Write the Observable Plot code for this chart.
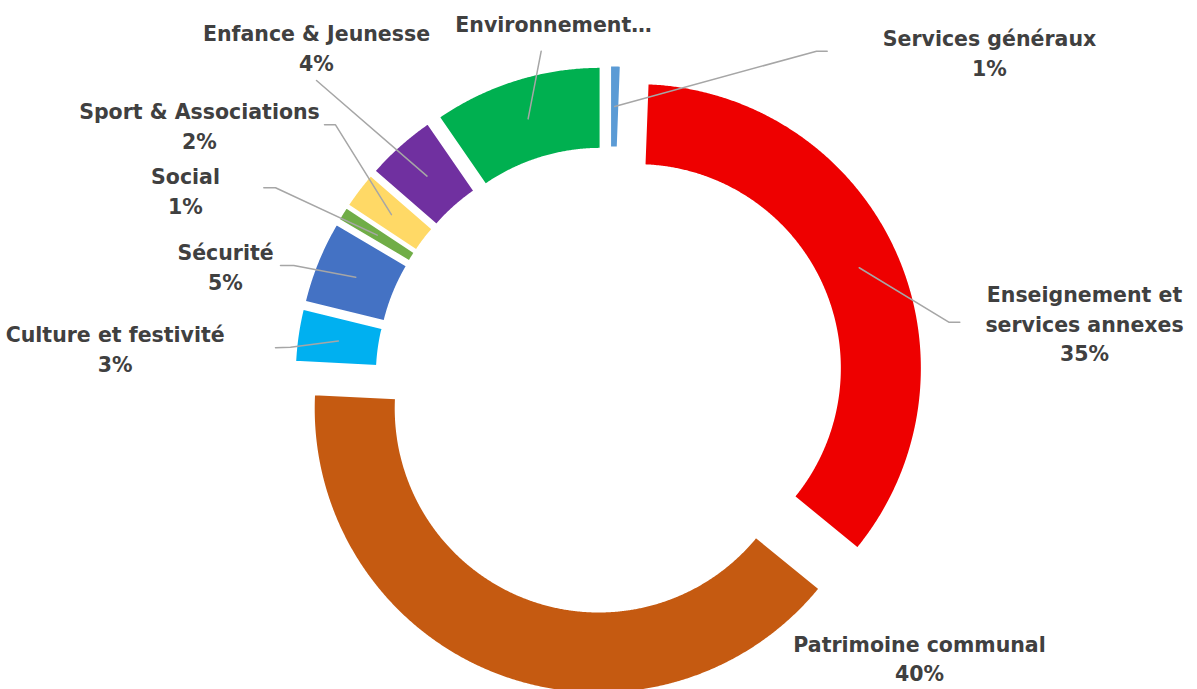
<!DOCTYPE html>
<html><head><meta charset="utf-8">
<script src="https://cdn.jsdelivr.net/npm/d3@7"></script>
<script src="https://cdn.jsdelivr.net/npm/@observablehq/plot@0.6"></script>
<style>body{margin:0;background:#fff}</style>
</head><body><div id="chart"></div>
<script>
// ---- data ----
const categories = ["Services généraux", "Enseignement et services annexes", "Patrimoine communal", "Culture et festivité", "Sécurité", "Social", "Sport & Associations", "Enfance & Jeunesse", "Environnement"];
const values = [0.6, 35.3, 39.9, 3.0, 4.7, 0.8, 2.1, 4.0, 9.6];
const colors = ["#5B9BD5", "#EE0000", "#C55A11", "#00B0F0", "#4472C4", "#70AD47", "#FFD966", "#7030A0", "#00B050"];
const labelTexts = ["Services généraux", "Enseignement et\nservices annexes", "Patrimoine communal", "Culture et festivité", "Sécurité", "Social", "Sport & Associations", "Enfance & Jeunesse", "Environnement…"];
const showPercent = [true, true, true, true, true, true, true, true, false];

// ---- layout (chart units, centre of the ring at 0,0, y up) ----
const W = 1197, H = 689, CX = 609, CY = 380;
const R_OUT = 285, R_IN = 203, EXPLODE = 30;
const labelAnchor = [[380, 305], [475, 19.3], [310, -300.7], [-494.3, 9], [-384, 90.7], [-424, 166.7], [-410, 231.7], [-293, 310], [-56, 349]];
const leaderPath = [
  [[207, 329.3], [217.7, 329.3]],
  [[339.3, 58.3], [350.3, 58.3]],
  null,
  [[-319, 33.3], [-334, 32.7]],
  [[-315.7, 115], [-329, 115]],
  [[-334, 192.7], [-345.7, 192.7]],
  [[-274, 255.7], [-285, 255.7]],
  [[-293, 300]],
  [[-68.3, 329.3]]
];

const total = d3.sum(values);
let acc = 0;
const slices = categories.map((c, i) => {
  const a0 = acc / total * 2 * Math.PI;
  acc += values[i];
  const a1 = acc / total * 2 * Math.PI;
  return {c, i, a0, a1, mid: (a0 + a1) / 2};
});

const ring = [];
for (const s of slices) {
  const ox = EXPLODE * Math.sin(s.mid), oy = EXPLODE * Math.cos(s.mid);
  const n = Math.max(2, Math.ceil((s.a1 - s.a0) / 0.005));
  const pts = [];
  for (let k = 0; k <= n; k++) { const a = s.a0 + (s.a1 - s.a0) * k / n; pts.push([ox + R_OUT * Math.sin(a), oy + R_OUT * Math.cos(a)]); }
  for (let k = n; k >= 0; k--) { const a = s.a0 + (s.a1 - s.a0) * k / n; pts.push([ox + R_IN * Math.sin(a), oy + R_IN * Math.cos(a)]); }
  pts.push(pts[0]);
  for (const [x, y] of pts) ring.push({c: s.c, x, y});
}

const leaders = [];
slices.forEach((s, i) => {
  if (!leaderPath[i]) return;
  const rm = EXPLODE + (R_OUT + R_IN) / 2;
  leaders.push({c: s.c, x: rm * Math.sin(s.mid), y: rm * Math.cos(s.mid)});
  for (const [x, y] of leaderPath[i]) leaders.push({c: s.c, x, y});
});

const labels = slices.map((s, i) => ({
  x: labelAnchor[i][0], y: labelAnchor[i][1],
  text: labelTexts[i] + (showPercent[i] ? "\n" + Math.round(values[i] / total * 100) + "%" : "")
}));

const FS = 20.5;
const chart = Plot.plot({
  width: W, height: H, margin: 0,
  x: {domain: [-CX, W - CX], axis: null},
  y: {domain: [CY - H, CY], axis: null},
  color: {domain: categories, range: colors},
  style: {fontFamily: "'DejaVu Sans', sans-serif", background: "#fff"},
  marks: [
    Plot.line(ring, {x: "x", y: "y", z: "c", fill: "c", stroke: "white", strokeWidth: 2, curve: "linear"}),
    Plot.line(leaders, {x: "x", y: "y", z: "c", stroke: "#A6A6A6", strokeWidth: 1.5}),
    Plot.text(labels, {x: "x", y: "y", text: "text", lineAnchor: "bottom", textAnchor: "middle", fontSize: FS, fontWeight: "bold", fill: "#404040", lineHeight: 29.5 / FS})
  ]
});
document.getElementById("chart").appendChild(chart);
</script>
</body></html>
